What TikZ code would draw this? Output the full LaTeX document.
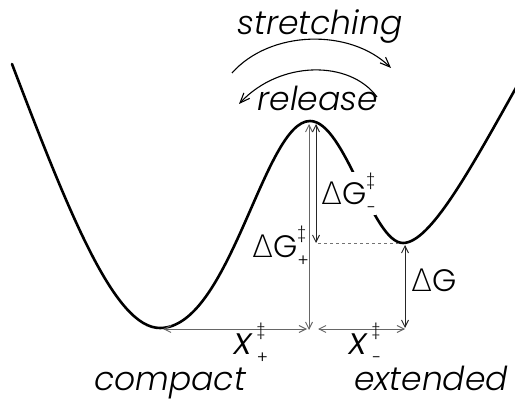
\documentclass[tikz,border=0pt]{standalone}
\usepackage{fontspec}
\setmainfont{Poppins}[UprightFont=* Light, ItalicFont=* Light Italic]
\newfontfamily\symf{DejaVu Sans}[UprightFont=* ExtraLight]
\usetikzlibrary{arrows.meta}
\newcommand{\SupSub}[2]{\makebox[0pt][l]{\raisebox{0.62em}{\fontsize{16}{18}\selectfont #1}}\raisebox{-0.28em}{\fontsize{17}{18}\selectfont #2}}
\begin{document}
\begin{tikzpicture}[x=1pt,y=-1pt,
  curve/.style={line width=2.6pt, line cap=round},
  tipv/.tip={Straight Barb[length=7pt,width=7pt,line width=0.9pt]},
  dim/.style={draw=black!60, line width=0.9pt, tipv-tipv},
  dimdark/.style={draw=black!85, line width=0.9pt, tipv-tipv},
  arc/.style={draw=black, line width=1.1pt, -{Straight Barb[length=10pt,width=8pt]}},
  word/.style={font=\fontsize{33}{38}\selectfont\itshape, inner sep=0pt, anchor=base},
  sym/.style={font=\fontsize{31}{36}\selectfont, inner sep=1pt, anchor=base west},
  dashline/.style={draw=black!55, line width=0.9pt, dashed}
]
\useasboundingbox (0,0) rectangle (515,401);
% key points
\coordinate (startL) at (12,64);
\coordinate (minL) at (160,328);
\coordinate (peak) at (310,121);
\coordinate (minR) at (403,243);
\coordinate (endR) at (517,86);
% energy curve
\draw[curve] (startL) .. controls (70,216) and (115,328) .. (minL)
  .. controls (230,328) and (264,121) .. (peak)
  .. controls (345,121) and (372,243) .. (minR)
  .. controls (430,243) and (470,170) .. (endR);
% dimension coordinates
\coordinate (p1top) at (309,124);
\coordinate (p1bot) at (309,330);
\coordinate (p2top) at (316,124);
\coordinate (p2bot) at (316,243);
\coordinate (dashL) at (318,243);
\coordinate (dashR) at (401,243);
\coordinate (gtop) at (405,245);
\coordinate (gbot) at (405,328);
\coordinate (xl1) at (163,329);
\coordinate (xl2) at (307,329);
\coordinate (xr1) at (318,329);
\coordinate (xr2) at (405,329);
\draw[dim] (p1top) -- (p1bot);
\draw[dimdark] (p2top) -- (p2bot);
\draw[dashline] (dashL) -- (dashR);
\draw[dimdark] (gtop) -- (gbot);
\draw[dim] (xl1) -- (xl2);
\draw[dim] (xr1) -- (xr2);
% arcs
\coordinate (s1) at (232,73);
\coordinate (s2) at (391,68);
\coordinate (r1) at (377,97);
\coordinate (r2) at (239,104);
\draw[arc] (s1) .. controls (270,30) and (350,28) .. (s2);
\draw[arc] (r1) .. controls (350,60) and (280,60) .. (r2);
% words
\node[word] (stretch) at (320,35) {stretching};
\node[word] (release) at (318,111) {release};
\node[word] (compact) at (170,391) {compact};
\node[word] (extended) at (431,391) {extended};
% symbols
\node[sym, fill=white] (dGm) at (320,205) {{\symf Δ}G\SupSub{‡}{−}};
\node[sym] (dGp) at (251,258) {{\symf Δ}G\SupSub{‡}{+}};
\node[sym] (dG) at (410,292) {{\symf Δ}G};
\node[sym] (xp) at (233,355) {{\fontsize{38}{40}\selectfont\itshape x}\,\SupSub{‡}{+}};
\node[sym] (xm) at (348,355) {{\fontsize{38}{40}\selectfont\itshape x}\,\SupSub{‡}{−}};
\end{tikzpicture}
\end{document}
